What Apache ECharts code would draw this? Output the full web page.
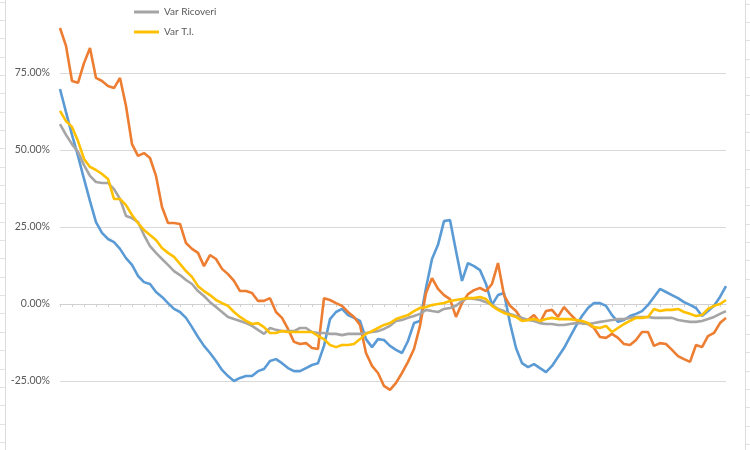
<!DOCTYPE html>
<html>
<head>
<meta charset="utf-8">
<title>Var Ricoveri / Var T.I.</title>
<script src="https://cdn.jsdelivr.net/npm/echarts@6/dist/echarts.min.js"></script>
<style>
    html, body { margin: 0; padding: 0; background: #fff; overflow: hidden; width: 750px; height: 450px; position: relative; }
    /* l'area del grafico esce un poco dal ritaglio in alto e in basso */
    #chart { position: absolute; left: 0; top: -4px; width: 750px; height: 462px; }
</style>
</head>
<body>
<div id="chart"></div>
<script>
// giorni (etichette asse x nascoste nel grafico originale)
const giorni = [];
for (let i = 1; i <= 112; i++) giorni.push('G' + i);

// variazioni percentuali
const varCasi = [
    69.8, 62.3, 54.9, 48.1, 40.6, 33.4, 26.6, 23.1, 21.1, 20.1,
    17.9, 14.9, 12.7, 9.1, 7.1, 6.5, 3.9, 2.3, 0.3, -1.6,
    -2.6, -4.5, -7.5, -10.7, -13.6, -15.9, -18.5, -21.4, -23.4, -25.0,
    -24.0, -23.4, -23.4, -21.8, -21.1, -18.5, -17.9, -19.2, -20.8, -21.8,
    -21.8, -20.8, -19.8, -19.2, -13.6, -4.9, -2.6, -1.6, -3.6, -4.5,
    -5.5, -11.4, -14.0, -11.4, -11.7, -13.6, -14.9, -15.9, -12.0, -6.2,
    -5.5, 5.2, 14.6, 19.2, 26.9, 27.3, 17.2, 7.5, 13.3, 12.3,
    11.0, 6.5, -0.3, 2.9, 3.6, -6.2, -14.3, -19.2, -20.5, -19.5,
    -20.8, -22.1, -20.1, -17.2, -14.3, -10.7, -7.1, -3.9, -1.3, 0.3,
    0.3, -0.6, -3.6, -5.8, -5.2, -3.9, -3.2, -2.3, -0.3, 2.3,
    4.9, 3.9, 2.9, 1.9, 0.6, -0.3, -1.3, -3.9, -2.3, -0.6,
    2.3, 5.8
];
const varDecessi = [
    89.6, 83.8, 72.4, 71.8, 78.2, 83.1, 73.4, 72.4, 70.8, 70.1,
    73.4, 64.3, 51.9, 48.1, 49.0, 47.4, 41.6, 31.5, 26.3, 26.3,
    26.0, 19.8, 17.9, 16.6, 12.3, 15.9, 14.6, 11.4, 9.7, 7.5,
    4.2, 4.2, 3.6, 1.0, 1.0, 1.9, -2.6, -4.5, -8.1, -12.3,
    -13.0, -12.7, -14.3, -14.6, 1.9, 1.3, 0.3, -0.6, -2.6, -4.2,
    -6.8, -15.9, -20.1, -22.4, -26.6, -27.9, -25.6, -22.4, -18.8, -14.6,
    -7.1, 3.6, 8.4, 4.9, 2.9, 1.6, -4.2, 0.3, 3.2, 4.5,
    5.2, 4.2, 6.5, 13.3, 2.9, -0.6, -2.3, -5.2, -5.2, -3.6,
    -6.0, -2.3, -1.9, -4.2, -1.0, -3.2, -5.2, -6.2, -6.5, -7.8,
    -10.7, -11.0, -9.7, -11.0, -13.0, -13.3, -11.7, -9.1, -9.1, -13.6,
    -12.7, -13.0, -14.9, -16.9, -17.9, -18.8, -13.3, -14.0, -10.4, -9.4,
    -6.2, -4.5
];
const varRicoveri = [
    58.4, 54.9, 51.9, 49.4, 45.1, 41.6, 39.6, 39.3, 39.3, 37.3,
    34.1, 28.6, 27.9, 26.6, 22.4, 18.8, 16.6, 14.6, 12.7, 10.7,
    9.4, 7.8, 6.5, 4.2, 2.6, 0.6, -1.0, -2.6, -4.2, -4.9,
    -5.5, -6.2, -7.1, -8.4, -9.7, -7.8, -8.4, -8.8, -8.8, -8.8,
    -7.8, -7.8, -9.1, -9.4, -9.4, -9.7, -9.7, -10.1, -9.7, -9.7,
    -9.7, -9.4, -9.1, -8.8, -8.1, -7.1, -5.5, -5.2, -4.5, -3.9,
    -3.2, -1.9, -2.3, -2.6, -1.6, -1.3, -0.6, 1.0, 1.9, 1.6,
    1.3, 0.6, -0.3, -1.6, -2.3, -3.2, -3.9, -4.5, -5.2, -5.5,
    -6.2, -6.5, -6.5, -6.8, -6.8, -6.5, -6.2, -6.2, -6.5, -6.2,
    -5.8, -5.5, -5.2, -4.9, -4.9, -4.5, -4.2, -4.2, -4.2, -4.5,
    -4.5, -4.5, -4.5, -5.2, -5.5, -5.8, -5.8, -5.5, -4.9, -4.2,
    -3.2, -2.3
];
const varTI = [
    62.7, 59.4, 57.5, 52.9, 47.1, 44.5, 43.5, 42.2, 40.6, 34.1,
    34.1, 32.1, 28.9, 26.3, 24.0, 22.4, 20.8, 18.2, 16.6, 15.3,
    13.0, 10.7, 8.8, 5.8, 4.2, 2.9, 1.3, 0.3, -0.6, -2.6,
    -4.2, -5.5, -6.5, -6.2, -7.5, -9.4, -9.4, -8.8, -9.1, -9.1,
    -9.1, -9.1, -9.1, -10.4, -11.4, -13.3, -14.0, -13.3, -13.3, -13.0,
    -11.4, -9.7, -8.8, -7.8, -6.8, -6.2, -4.9, -4.2, -3.6, -2.3,
    -1.3, -1.0, -0.3, 0.0, 0.3, 1.0, 1.3, 1.6, 1.9, 1.9,
    2.3, 1.6, -0.6, -1.9, -2.9, -3.6, -4.2, -5.5, -5.2, -4.9,
    -5.5, -4.9, -4.5, -4.9, -4.9, -4.9, -5.2, -5.5, -6.2, -7.5,
    -7.8, -7.1, -9.1, -7.8, -6.5, -5.5, -4.5, -4.5, -4.2, -1.6,
    -2.3, -1.9, -1.9, -1.6, -2.6, -3.2, -3.9, -3.6, -1.6, -0.6,
    0.0, 1.3
];

const chart = echarts.init(document.getElementById('chart'));

// bordi delle celle del foglio ai lati del grafico (il contenitore parte 4px piu' in alto)
const celle = [
    { type: 'line', shape: { x1: 5.5, y1: 0, x2: 5.5, y2: 462 }, style: { stroke: '#dcdcdc', lineWidth: 1 }, silent: true },
    { type: 'line', shape: { x1: 745.5, y1: 0, x2: 745.5, y2: 462 }, style: { stroke: '#dcdcdc', lineWidth: 1 }, silent: true }
];
for (let y = 5.5; y < 462; y += 18.35) {
    const yy = Math.round(y) + 0.5;
    celle.push({ type: 'line', shape: { x1: 0, y1: yy, x2: 5, y2: yy }, style: { stroke: '#e2e2e2', lineWidth: 1 }, silent: true });
    celle.push({ type: 'line', shape: { x1: 746, y1: yy + 2, x2: 750, y2: yy + 2 }, style: { stroke: '#e2e2e2', lineWidth: 1 }, silent: true });
}

const lineSeries = (name, data, color) => ({
    name,
    type: 'line',
    data,
    symbol: 'none',
    smooth: false,
    lineStyle: { width: 2.6, color },
    itemStyle: { color },
    emphasis: { disabled: true }
});

const option = {
    animation: false,
    textStyle: { fontFamily: 'Lato, "Open Sans", sans-serif' },
    graphic: celle,
    legend: {
        data: ['Var Ricoveri', 'Var T.I.'],
        orient: 'vertical',
        left: 129,
        top: 5,
        itemGap: 8,
        itemWidth: 25,
        itemHeight: 3,
        icon: 'rect',
        textStyle: { fontSize: 10, lineHeight: 12, color: '#595959' }
    },
    grid: {
        left: 60,
        right: 24,
        top: 0,
        bottom: 0,
        containLabel: false
    },
    xAxis: {
        type: 'category',
        data: giorni,
        boundaryGap: false,
        axisLine: { onZero: true, lineStyle: { color: '#d0d0d0', width: 1 } },
        axisTick: { show: true, interval: 1, length: 3, lineStyle: { color: '#d0d0d0' } },
        axisLabel: { show: false },
        splitLine: { show: false }
    },
    yAxis: {
        type: 'value',
        min: -50,
        max: 100,
        interval: 25,
        axisLine: { show: false },
        axisTick: { show: false },
        axisLabel: {
            margin: 10,
            fontSize: 10.5,
            color: '#595959',
            showMaxLabel: false,
            showMinLabel: false,
            formatter: v => v.toFixed(2) + '%'
        },
        splitLine: { lineStyle: { color: '#d9d9d9', width: 1 } }
    },
    series: [
        lineSeries('Var Casi', varCasi, '#5B9BD5'),
        lineSeries('Var Decessi', varDecessi, '#ED7D31'),
        lineSeries('Var Ricoveri', varRicoveri, '#A5A5A5'),
        lineSeries('Var T.I.', varTI, '#FFC000')
    ]
};

chart.setOption(option);
</script>
</body>
</html>
